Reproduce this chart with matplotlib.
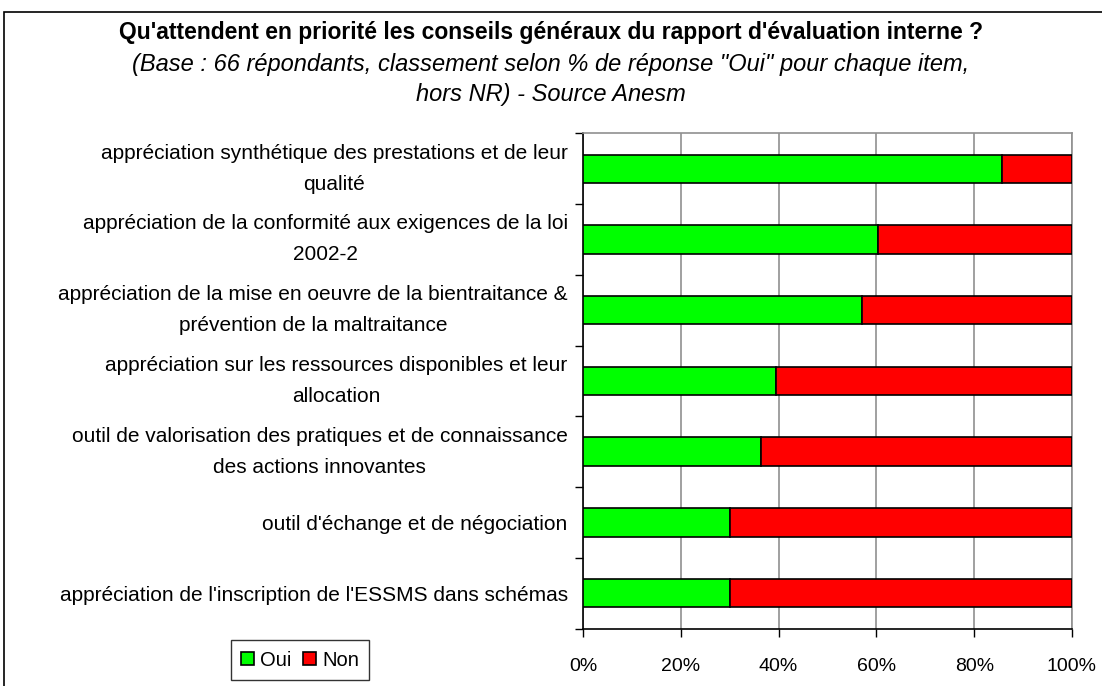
import numpy as np
import matplotlib.pyplot as plt
import matplotlib.transforms as mtransforms
from matplotlib.patches import Rectangle

plt.rcParams['font.family'] = ['Liberation Sans', 'DejaVu Sans']

categories = [
    "appréciation synthétique des prestations et de leur\nqualité",
    "appréciation de la conformité aux exigences de la loi\n2002-2",
    "appréciation de la mise en oeuvre de la bientraitance &\nprévention de la maltraitance",
    "appréciation sur les ressources disponibles et leur\nallocation",
    "outil de valorisation des pratiques et de connaissance\ndes actions innovantes",
    "outil d'échange et de négociation",
    "appréciation de l'inscription de l'ESSMS dans schémas",
]
oui = np.array([85.6, 60.3, 57.1, 39.5, 36.3, 30.0, 30.0])
non = 100 - oui

fig = plt.figure(figsize=(11.02, 6.86), dpi=100)
ax = fig.add_axes([583 / 1102, 1 - 628.5 / 686, (1072 - 583) / 1102, (628.5 - 133.3) / 686])

y = np.arange(len(categories))
ax.barh(y, oui, height=0.4, color='#00ff00', edgecolor='black', linewidth=1.2, label='Oui', zorder=3)
ax.barh(y, non, left=oui, height=0.4, color='#ff0000', edgecolor='black', linewidth=1.2, label='Non', zorder=3)

ax.set_xlim(0, 100)
ax.set_ylim(len(categories) - 0.5, -0.5)
ax.set_xticks(np.arange(0, 101, 20))
ax.set_xticklabels([str(v) + '%' for v in range(0, 101, 20)], fontsize=14)
ax.xaxis.grid(True, color='#909090', linewidth=1.2, zorder=0)

# category labels on minor ticks, boundary marks on major ticks
ax.set_yticks(np.arange(-0.5, len(categories), 1.0))
ax.set_yticklabels([])
ax.set_yticks(y, minor=True)
ax.set_yticklabels(categories, minor=True, fontsize=15, multialignment='center', linespacing=1.8)
ax.tick_params(axis='y', which='minor', length=0, pad=11)
ax.tick_params(axis='y', which='major', length=6, width=1, direction='out')
ax.tick_params(axis='x', length=6, width=1, direction='out', pad=15)

# two-line labels sit a bit higher in the original
shift = mtransforms.ScaledTranslation(0, 8 / 100, fig.dpi_scale_trans)
for lbl in ax.get_yticklabels(minor=True):
    if '\n' in lbl.get_text():
        lbl.set_transform(lbl.get_transform() + shift)

for side in ['top', 'right']:
    ax.spines[side].set_color('#909090')
    ax.spines[side].set_linewidth(1.2)
for side in ['left', 'bottom']:
    ax.spines[side].set_linewidth(1.2)

fig.text(0.5, 1 - 32 / 686, "Qu'attendent en priorité les conseils généraux du rapport d'évaluation interne ?",
         ha='center', va='center', fontsize=16.5, fontweight='bold')
fig.text(0.5, 1 - 65 / 686, "(Base : 66 répondants, classement selon % de réponse \"Oui\" pour chaque item,",
         ha='center', va='center', fontsize=17, style='italic')
fig.text(0.5, 1 - 95 / 686, "hors NR) - Source Anesm",
         ha='center', va='center', fontsize=17, style='italic')

leg = fig.legend(loc='center', bbox_to_anchor=(300 / 1102, 1 - 660 / 686), ncol=2, fontsize=14.5,
                 frameon=True, fancybox=False, edgecolor='black', handlelength=0.65, handleheight=0.65,
                 handletextpad=0.3, columnspacing=0.6, borderpad=0.5)
leg.get_frame().set_linewidth(1.0)

fig.patches.append(Rectangle((4 / 1102, -0.1), 1.2, 1 - 12 / 686 + 0.1, transform=fig.transFigure,
                             fill=False, edgecolor='black', linewidth=1.2))

fig.savefig('out.png', dpi=100)
